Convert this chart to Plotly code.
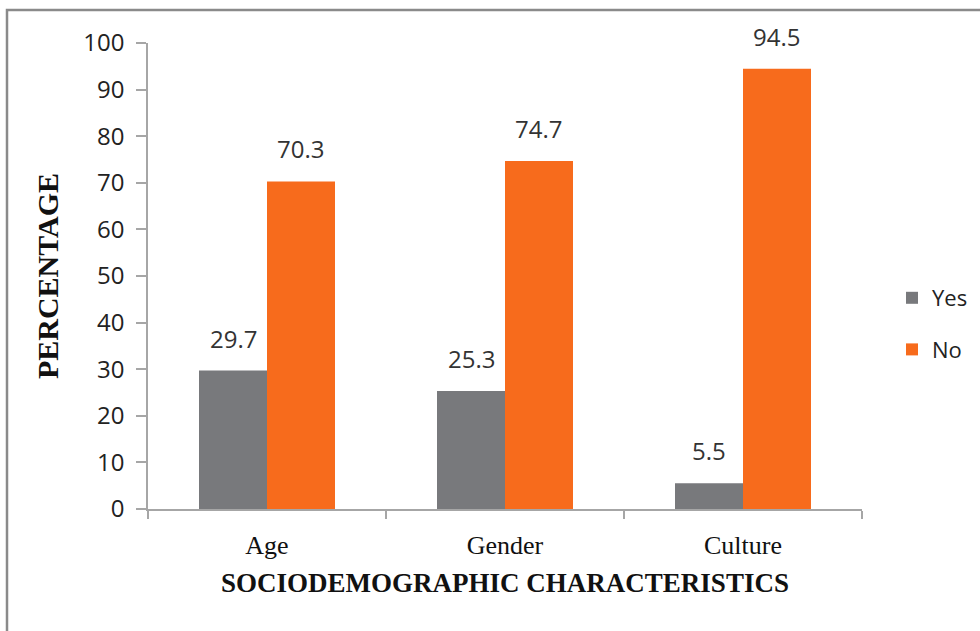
import plotly.graph_objects as go

# Survey responses by sociodemographic characteristic (%)
categories = ["Age", "Gender", "Culture"]
yes_values = [29.7, 25.3, 5.5]
no_values = [70.3, 74.7, 94.5]
series_names = ["Yes", "No"]
y_ticks = list(range(0, 101, 10))

GRAY = "#78797c"
ORANGE = "#f76b1c"
SANS = "Open Sans"
SERIF = "Liberation Serif"

W, H = 980, 631
L, R, T, B = 148, 118, 43, 122
pw, ph = W - L - R, H - T - B

fig = go.Figure()
fig.add_trace(go.Bar(name=series_names[0], x=categories, y=yes_values,
                     marker=dict(color=GRAY, line=dict(width=0)),
                     legendgroup="a"))
fig.add_trace(go.Bar(name=series_names[1], x=categories, y=no_values,
                     marker=dict(color=ORANGE, line=dict(width=0)),
                     legendgroup="b"))

# value labels above each bar
half = pw / len(categories) * (1 - 0.4286) / 4
annotations = []
for vals, shift in ((yes_values, -half), (no_values, half)):
    for c, v in zip(categories, vals):
        annotations.append(dict(x=c, y=v, xref="x", yref="y", text=f"{v}",
                                showarrow=False, xshift=shift, yshift=14,
                                yanchor="bottom",
                                font=dict(family=SANS, size=24, color="#333333")))

# outer frame (top and left edges)
fx = (7 - L) / pw
fy = (H - B - 10) / ph
shapes = [dict(type="path", xref="paper", yref="paper",
               path=f"M {fx} -0.4 L {fx} {fy} L 1.3 {fy}",
               line=dict(color="#8a8a8a", width=2.5))]

fig.update_layout(
    width=W, height=H,
    margin=dict(l=L, r=R, t=T, b=B, autoexpand=False),
    paper_bgcolor="white", plot_bgcolor="white",
    barmode="group", bargap=0.4286, bargroupgap=0,
    annotations=annotations, shapes=shapes,
    legend=dict(x=(892 - L) / pw, y=(H - B - 277) / ph, xanchor="left",
                yanchor="top", tracegroupgap=20, traceorder="grouped",
                font=dict(family=SANS, size=22, color="#222222"),
                bgcolor="rgba(0,0,0,0)"),
    xaxis=dict(
        type="category", range=[-0.5, 2.5],
        showline=True, linecolor="#a6a6a6", linewidth=1.5,
        ticks="outside", tickson="boundaries", ticklen=8,
        tickcolor="#a6a6a6", tickwidth=1.5, ticklabelstandoff=12,
        tickfont=dict(family=SERIF, size=26, color="#111111"),
        title=dict(text="<b>SOCIODEMOGRAPHIC CHARACTERISTICS</b>",
                   font=dict(family=SERIF, size=27, color="#111111"),
                   standoff=14),
        showgrid=False, zeroline=False,
    ),
    yaxis=dict(
        range=[0, 100], tickvals=y_ticks,
        showline=True, linecolor="#a6a6a6", linewidth=1.5,
        ticks="outside", ticklen=10, tickcolor="#a6a6a6", tickwidth=1.5,
        ticklabelstandoff=7,
        tickfont=dict(family=SANS, size=24, color="#222222"),
        title=dict(text="<b>PERCENTAGE</b>",
                   font=dict(family=SERIF, size=30, color="#111111"),
                   standoff=16),
        showgrid=False, zeroline=False,
    ),
)

fig.write_html("out.html")
